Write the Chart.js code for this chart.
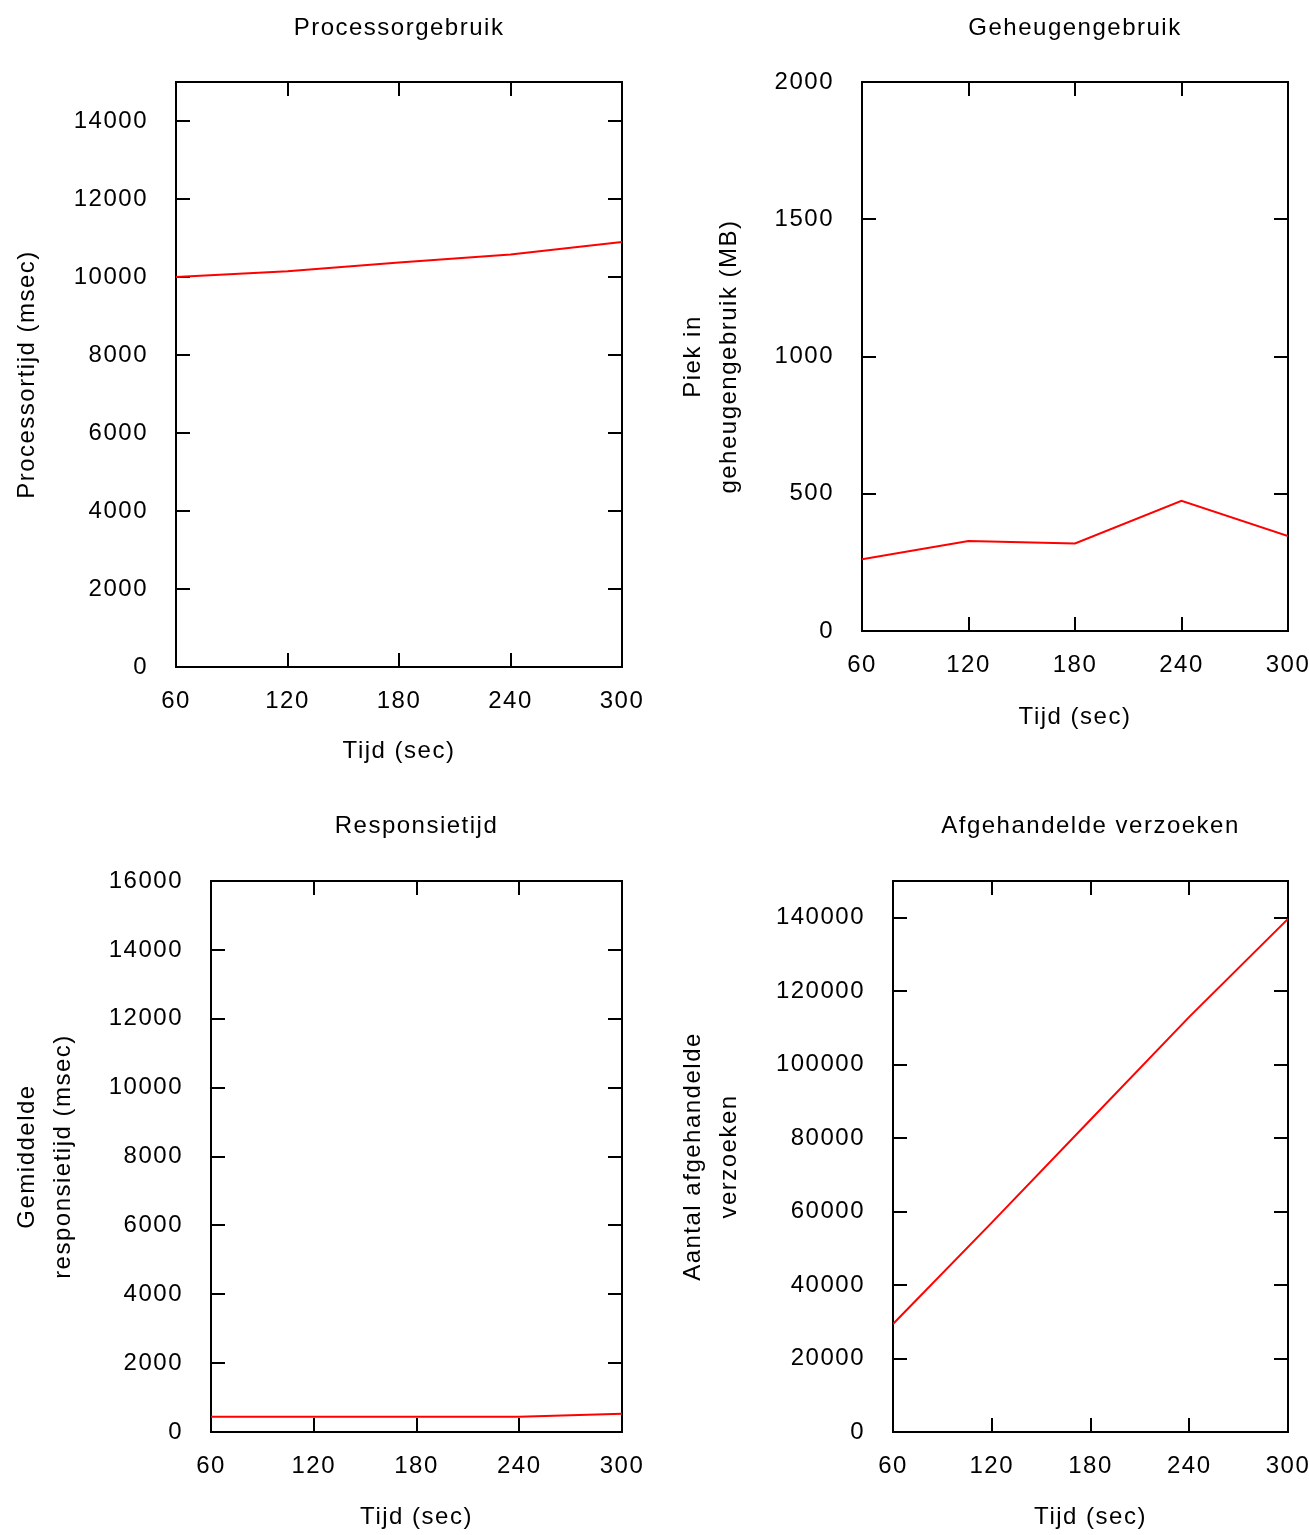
<!DOCTYPE html>
<html>
<head>
<meta charset="utf-8">
<script src="https://cdn.jsdelivr.net/npm/chart.js@4/dist/chart.umd.min.js"></script>
<style>
html,body{margin:0;padding:0;background:#fff;}
body{width:1309px;height:1535px;position:relative;overflow:hidden;}
canvas{position:absolute;display:block;}
</style>
</head>
<body>
<canvas id="c1" width="654" height="780" style="left:0;top:0"></canvas>
<canvas id="c2" width="655" height="780" style="left:654px;top:0"></canvas>
<canvas id="c3" width="654" height="755" style="left:0;top:780px"></canvas>
<canvas id="c4" width="655" height="755" style="left:654px;top:780px"></canvas>
<script>
// ---- data ----
const tijdSec = [60, 120, 180, 240, 300];
const processortijdMsec = [10000, 10150, 10370, 10580, 10900];
const piekGeheugenMB = [261, 328, 319, 474, 346];
const responsietijdMsec = [440, 440, 440, 440, 530];
const afgehandeldeVerzoeken = [29400, 57000, 85000, 113000, 139700];

const xTickValues = [60, 120, 180, 240, 300];
const yTicksProcessor = [0, 2000, 4000, 6000, 8000, 10000, 12000, 14000];
const yTicksGeheugen = [0, 500, 1000, 1500, 2000];
const yTicksResponsie = [0, 2000, 4000, 6000, 8000, 10000, 12000, 14000, 16000];
const yTicksVerzoeken = [0, 20000, 40000, 60000, 80000, 100000, 120000, 140000];

const titles = ['Processorgebruik', 'Geheugengebruik', 'Responsietijd', 'Afgehandelde verzoeken'];
const xTitle = 'Tijd (sec)';
const yTitles = [
  'Processortijd (msec)',
  ['Piek in', 'geheugengebruik (MB)'],
  ['Gemiddelde', 'responsietijd (msec)'],
  ['Aantal afgehandelde', 'verzoeken']
];

// ---- rendering ----
const FONT = "'Liberation Sans', Arial, sans-serif";
Chart.defaults.font.family = FONT;
Chart.defaults.font.size = 24;
Chart.defaults.color = '#000';

const gnuplotFrame = {
  id: 'gnuplotFrame',
  beforeDraw(chart) { chart.ctx.letterSpacing = '1.5px'; },
  beforeDatasetsDraw(chart) {
    const {ctx, chartArea: a, scales: {x, y}} = chart;
    const L = 14;
    ctx.save();
    ctx.strokeStyle = '#000';
    ctx.lineWidth = 2;
    ctx.beginPath();
    x.ticks.forEach(t => {
      const px = Math.round(x.getPixelForValue(t.value));
      ctx.moveTo(px, a.bottom); ctx.lineTo(px, a.bottom - L);
      ctx.moveTo(px, a.top); ctx.lineTo(px, a.top + L);
    });
    y.ticks.forEach(t => {
      const py = Math.round(y.getPixelForValue(t.value));
      ctx.moveTo(a.left, py); ctx.lineTo(a.left + L, py);
      ctx.moveTo(a.right, py); ctx.lineTo(a.right - L, py);
    });
    ctx.stroke();
    ctx.strokeRect(a.left, a.top, a.right - a.left, a.bottom - a.top);
    ctx.restore();
  }
};

const plainNumber = v => String(v);

function makeChart(id, cfg) {
  const points = tijdSec.map((t, i) => ({x: t, y: cfg.values[i]}));
  return new Chart(document.getElementById(id), {
    type: 'line',
    data: { datasets: [{ data: points, borderColor: '#ff0000', borderWidth: 2, pointRadius: 0, tension: 0, fill: false }] },
    plugins: [gnuplotFrame],
    options: {
      responsive: false,
      animation: false,
      devicePixelRatio: 1,
      layout: { padding: { left: 0, right: cfg.padRight, top: 0, bottom: 0 } },
      plugins: {
        legend: { display: false },
        tooltip: { enabled: false },
        title: {
          display: true, text: cfg.title, fullSize: false,
          font: { size: 24, weight: 'normal', lineHeight: 1.2 },
          color: '#000',
          padding: { top: cfg.titleTop, bottom: cfg.titleBottom }
        }
      },
      scales: {
        x: {
          type: 'linear', min: 60, max: 300,
          afterBuildTicks: s => { s.ticks = xTickValues.map(v => ({value: v})); },
          afterFit: s => { s.height = cfg.xHeight; s.paddingLeft = 0; s.paddingRight = 0; },
          grid: { display: false, drawTicks: false },
          border: { display: false },
          ticks: { padding: 20, maxRotation: 0, autoSkip: false, font: { size: 24 }, color: '#000', callback: plainNumber },
          title: { display: true, text: xTitle, font: { size: 24, lineHeight: 1.5 }, color: '#000', padding: { top: 0, bottom: cfg.xTitleBottom } }
        },
        y: {
          type: 'linear', min: cfg.yMin, max: cfg.yMax,
          afterBuildTicks: s => { s.ticks = cfg.yTicks.map(v => ({value: v})); },
          afterFit: s => { s.width = cfg.yWidth; s.paddingTop = 0; s.paddingBottom = 0; },
          grid: { display: false, drawTicks: false },
          border: { display: false },
          ticks: { padding: 28, autoSkip: false, font: { size: 24 }, color: '#000', callback: plainNumber },
          title: { display: true, text: cfg.yTitle, font: { size: 24, lineHeight: 1.5 }, color: '#000', padding: { top: cfg.yTitlePad, bottom: 0 } }
        }
      }
    }
  });
}

makeChart('c1', { values: processortijdMsec, title: titles[0], yTitle: yTitles[0], yTicks: yTicksProcessor,
  yMin: 0, yMax: 15000, padRight: 32, yWidth: 176, xHeight: 113, titleTop: 13.6, titleBottom: 39.6, xTitleBottom: 11, yTitlePad: 9 });
makeChart('c2', { values: piekGeheugenMB, title: titles[1], yTitle: yTitles[1], yTicks: yTicksGeheugen,
  yMin: 0, yMax: 2000, padRight: 21, yWidth: 208, xHeight: 149, titleTop: 13.6, titleBottom: 39.6, xTitleBottom: 45, yTitlePad: 21 });
makeChart('c3', { values: responsietijdMsec, title: titles[2], yTitle: yTitles[2], yTicks: yTicksResponsie,
  yMin: 0, yMax: 16000, padRight: 32, yWidth: 211, xHeight: 103, titleTop: 31.6, titleBottom: 40.6, xTitleBottom: 0, yTitlePad: 9 });
makeChart('c4', { values: afgehandeldeVerzoeken, title: titles[3], yTitle: yTitles[3], yTicks: yTicksVerzoeken,
  yMin: 0, yMax: 150000, padRight: 21, yWidth: 239, xHeight: 103, titleTop: 31.6, titleBottom: 40.6, xTitleBottom: 0, yTitlePad: 21 });
</script>
</body>
</html>
